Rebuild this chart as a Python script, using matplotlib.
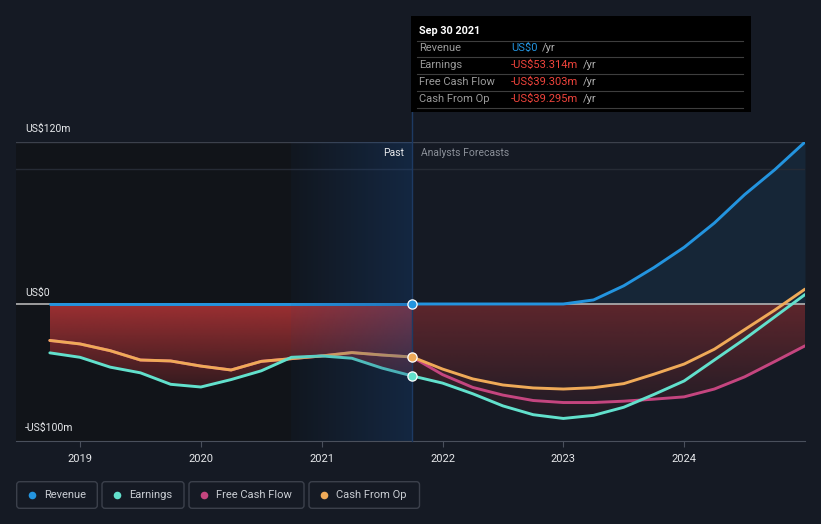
import matplotlib.pyplot as plt
import numpy as np
from matplotlib.patches import PathPatch, Rectangle, FancyBboxPatch

plt.rcParams['font.family'] = ['Roboto', 'DejaVu Sans']

# ---- data (US$ m), quarterly points ----
past_x = [2018.75, 2019.0, 2019.25, 2019.5, 2019.75, 2020.0, 2020.25,
          2020.5, 2020.75, 2021.0, 2021.25, 2021.5, 2021.75]
past_revenue = [0, 0, 0, 0, 0, 0, 0, 0, 0, 0, 0, 0, 0]
past_earnings = [-36.2, -39.5, -46.8, -51.0, -59.5, -61.5, -56.0,
                 -49.5, -39.5, -38.5, -40.2, -47.5, -53.314]
past_cfo = [-27.0, -29.6, -34.6, -41.5, -42.2, -46.0, -48.9,
            -42.5, -40.5, -38.5, -36.0, -37.8, -39.295]
past_fcf = [-27.0, -29.6, -34.6, -41.5, -42.2, -46.0, -48.9,
            -42.5, -40.5, -38.5, -36.0, -37.8, -39.303]

fc_x = [2021.75, 2022.0, 2022.25, 2022.5, 2022.75, 2023.0, 2023.25,
        2023.5, 2023.75, 2024.0, 2024.25, 2024.5, 2024.75, 2025.0]
fc_revenue = [0, 0, 0, 0, 0, 0, 3.0, 13.5, 27.0, 42.0, 60.0, 81.0, 99.5, 120.0]
fc_earnings = [-53.314, -58.6, -66.5, -75.5, -82.0, -84.8, -82.5,
               -76.5, -67.0, -57.0, -41.5, -26.0, -9.5, 7.0]
fc_cfo = [-39.295, -48.2, -55.5, -60.0, -62.2, -63.0, -62.0,
          -59.0, -52.0, -44.5, -33.5, -19.0, -4.5, 11.0]
fc_fcf = [-39.303, -52.3, -61.8, -67.5, -71.5, -73.0, -73.0,
          -72.0, -70.5, -68.8, -63.0, -54.0, -42.6, -31.0]

year_ticks = [2019, 2020, 2021, 2022, 2023, 2024]
series_names = ['Revenue', 'Earnings', 'Free Cash Flow', 'Cash From Op']
series_colors = ['#2394df', '#62e0cc', '#c4457f', '#efaa58']
tip_values = ['US$0', '-US$53.314m', '-US$39.303m', '-US$39.295m']

BG = '#151a24'
X0, X1 = 2018.47, 2025.0
Y0, Y1 = -101.5, 120

fig = plt.figure(figsize=(8.21, 5.24), dpi=100, facecolor=BG)
ax = fig.add_axes([16/821, 83/524, 789/821, 299/524])
ax.set_facecolor(BG)

px = np.array(past_x)
fx = np.array(fc_x)

# darker background for the past
ax.axvspan(X0, 2021.75, color='#111419', lw=0, zorder=0)


def gradient_fill(x, top, bottom, rgb, a_top, a_bot, depth, z):
    poly = ax.fill_between(x, top, bottom, color='none', lw=0)
    patch = PathPatch(poly.get_paths()[0], transform=ax.transData,
                      facecolor='none', edgecolor='none')
    ax.add_patch(patch)
    n = 200
    yy = np.linspace(0, 1, n)
    img = np.zeros((n, 1, 4))
    img[:, 0, :3] = rgb
    img[:, 0, 3] = a_bot + (a_top - a_bot) * yy
    im = ax.imshow(img, aspect='auto', origin='lower', zorder=z,
                   extent=[x.min(), x.max(), -depth, 0])
    im.set_clip_path(patch)


red = (0.68, 0.2, 0.21)
past_low = np.minimum(np.array(past_earnings), np.array(past_cfo))
fc_low = np.minimum(np.minimum(np.array(fc_earnings), np.array(fc_cfo)), np.array(fc_fcf))
gradient_fill(px, 0, past_low, red, 0.9, 0.2, 64, 1)
gradient_fill(fx, 0, fc_low, red, 0.48, 0.05, 86, 1)

# revenue area
ax.fill_between(fx, 0, fc_revenue, color='#2394df', alpha=0.1, lw=0, zorder=1)

# grid lines and zero line
ax.axhline(120, color='#3c414c', lw=1, zorder=2)
ax.axhline(100, color='#262b35', lw=1, zorder=2)
ax.axhline(0, color='#a8a8a8', lw=1.3, zorder=3)

# lines
lw = 2.1
kw = dict(lw=lw, solid_joinstyle='round', solid_capstyle='round')
ax.plot(px, past_fcf, color=series_colors[2], zorder=4, **kw)
ax.plot(px, past_cfo, color=series_colors[3], zorder=5, **kw)
ax.plot(px, past_earnings, color=series_colors[1], zorder=5, **kw)
ax.plot(px, past_revenue, color=series_colors[0], zorder=6, **kw)
ax.plot(fx, fc_fcf, color=series_colors[2], zorder=4, **kw)
ax.plot(fx, fc_earnings, color=series_colors[1], zorder=5, **kw)
ax.plot(fx, fc_cfo, color=series_colors[3], zorder=5, **kw)
ax.plot(fx, fc_revenue, color=series_colors[0], zorder=6, **kw)

# highlighted last year of the past: blue band fading in from the left
n = 200
band = np.zeros((1, n, 4))
band[0, :, :3] = (0.10, 0.29, 0.54)
band[0, :, 3] = np.linspace(0.06, 0.36, n)
ax.imshow(band, aspect='auto', origin='lower', zorder=7,
          extent=[2020.75, 2021.75, Y0, Y1])
ax.axvline(2021.75, ymin=0, ymax=(441-112)/299, color='#1d3a63', lw=1,
           zorder=7, clip_on=False)

# markers at the last reported point
for val, col in [(past_revenue[-1], series_colors[0]), (past_earnings[-1], series_colors[1]),
                 (past_cfo[-1], series_colors[3])]:
    ax.scatter([past_x[-1]], [val], s=44, color=col, edgecolor='white', lw=0.9, zorder=8)

ax.set_xlim(X0, X1)
ax.set_ylim(Y0, Y1)
ax.set_xticks(year_ticks)
ax.set_xticklabels([str(y) for y in year_ticks], color='#e6e8eb', fontsize=8)
ax.set_yticks([])
ax.tick_params(axis='x', length=4, color='#4a505c', pad=5)
for s in ['top', 'right', 'left']:
    ax.spines[s].set_visible(False)
ax.spines['bottom'].set_color('#4a505c')

ax.text(2021.68, 112, 'Past', color='#e6e8eb', fontsize=7.5, ha='right', va='center', zorder=9)
ax.text(2021.82, 112, 'Analysts Forecasts', color='#8b9099', fontsize=7.5,
        ha='left', va='center', zorder=9)

# overlay in pixel coordinates
ov = fig.add_axes([0, 0, 1, 1], zorder=10)
ov.set_xlim(0, 821)
ov.set_ylim(524, 0)
ov.axis('off')
ov.patch.set_alpha(0)

ov.text(25, 129, 'US$120m', color='#e6e8eb', fontsize=7.5, va='center')
ov.text(25, 293, 'US$0', color='#e6e8eb', fontsize=7.5, va='center')
ov.text(25, 428, '-US$100m', color='#e6e8eb', fontsize=7.5, va='center')

# tooltip
ov.add_patch(Rectangle((411, 16), 340, 96, color='#000000', lw=0))
ov.text(419, 31.5, 'Sep 30 2021', color='white', fontsize=7.8, fontweight='bold', va='center')
for yl in [40.5, 57.3, 74.3, 91.3, 108.3]:
    ov.plot([417, 743], [yl, yl], color='#3e3e3e', lw=0.8)
row_y = [48.3, 65, 82, 99.3]
for i, name in enumerate(series_names):
    ov.text(419, row_y[i], name, color='#9a9a9a', fontsize=8, va='center')
    vcol = '#2394df' if i == 0 else '#f0443c'
    t = ov.text(511, row_y[i], tip_values[i], color=vcol, fontsize=8, va='center')
    ov.annotate('/yr', xy=(1, 0.5), xycoords=t, xytext=(3, 0), textcoords='offset points',
                color='#b0b0b0', fontsize=8, va='center')

# legend boxes
boxes = [(16.7, 80.6), (102, 82), (189, 115), (309, 110.5)]
for (bx, bw), name, col in zip(boxes, series_names, series_colors):
    ov.add_patch(FancyBboxPatch((bx, 481.7), bw, 26.6, boxstyle='round,pad=0,rounding_size=3',
                                facecolor='none', edgecolor='#3b404b', lw=1))
    ov.scatter([bx + 15], [494.5], s=30, color=col, lw=0)
    ov.text(bx + 27.5, 494.5, name, color='#c9cdd3', fontsize=8, va='center')

fig.savefig('out.png', dpi=100, facecolor=BG)
